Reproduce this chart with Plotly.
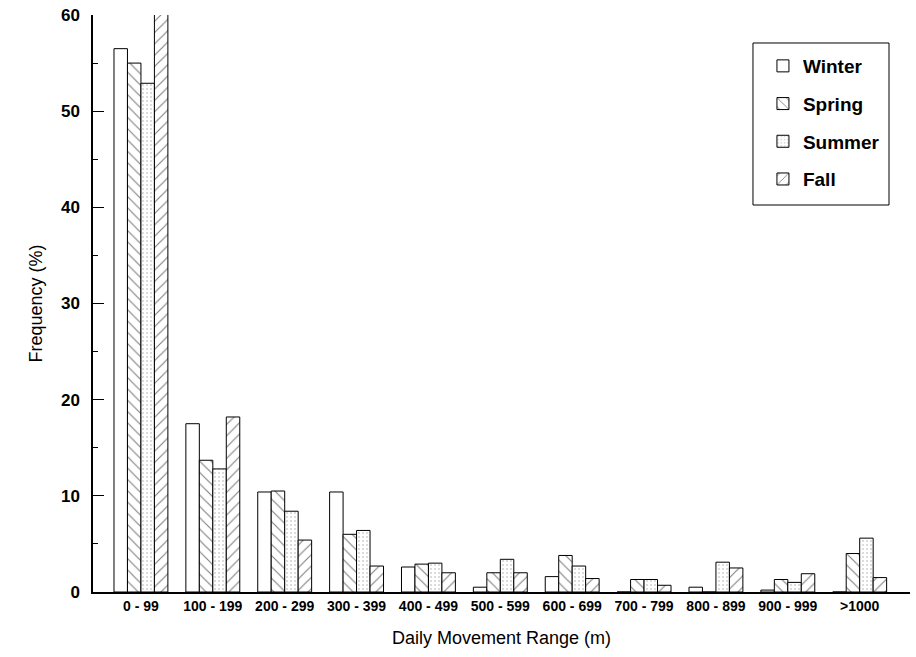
import plotly.graph_objects as go

categories = ["0 - 99", "100 - 199", "200 - 299", "300 - 399", "400 - 499",
              "500 - 599", "600 - 699", "700 - 799", "800 - 899", "900 - 999", ">1000"]
winter = [56.5, 17.5, 10.4, 10.4, 2.6, 0.5, 1.6, 0.0, 0.5, 0.2, 0.0]
spring = [55.0, 13.7, 10.5, 6.0, 2.9, 2.0, 3.8, 1.3, 0.0, 1.3, 4.0]
summer = [52.9, 12.8, 8.4, 6.4, 3.0, 3.4, 2.7, 1.3, 3.1, 1.0, 5.6]
fall = [60.1, 18.2, 5.4, 2.7, 2.0, 2.0, 1.4, 0.7, 2.5, 1.9, 1.5]
y_ticks = [0, 10, 20, 30, 40, 50, 60]

FONT = "Liberation Sans"

series = [
    ("Winter", winter, dict(shape="", fillmode="replace")),
    ("Spring", spring, dict(shape="\\", size=8, solidity=0.14, fgcolor="black", bgcolor="white")),
    ("Summer", summer, dict(shape=".", size=4, solidity=0.22, fgcolor="#a8a8a8", bgcolor="white")),
    ("Fall", fall, dict(shape="/", size=8, solidity=0.14, fgcolor="black", bgcolor="white")),
]

fig = go.Figure()
for i, (name, vals, pat) in enumerate(series):
    fig.add_trace(go.Bar(
        x=categories, y=vals, name=name, legendgroup=name,
        marker=dict(color="white", line=dict(color="black", width=1), pattern=pat),
    ))

# legend frame
fig.add_shape(type="rect", xref="paper", yref="paper",
              x0=0.8078, x1=0.9743, y0=0.6707, y1=0.9515,
              line=dict(color="black", width=1), fillcolor="rgba(0,0,0,0)", layer="above")

fig.update_layout(
    width=916, height=657,
    margin=dict(l=93, r=6, t=15, b=65, autoexpand=False),
    paper_bgcolor="white", plot_bgcolor="white",
    barmode="group", bargap=0.25, bargroupgap=0,
    font=dict(family=FONT, color="black"),
    showlegend=True,
    legend=dict(
        x=0.82, y=0.9445, xanchor="left", yanchor="top",
        borderwidth=0, bgcolor="rgba(255,255,255,0)",
        font=dict(size=19, family=FONT, color="black", weight="bold"),
        traceorder="grouped", tracegroupgap=10,
    ),
    xaxis=dict(
        type="category", range=[-0.667, 10.7],
        showline=True, linecolor="black", linewidth=1.5,
        ticks="", showgrid=False, zeroline=False, automargin=False,
        tickfont=dict(size=14, family=FONT, color="black", weight="bold"),
        title=dict(text="Daily Movement Range (m)", font=dict(size=18, family=FONT), standoff=19),
    ),
    yaxis=dict(
        range=[0, 60], tickvals=y_ticks, automargin=False,
        showline=True, linecolor="black", linewidth=1.5,
        ticks="inside", ticklen=11, tickcolor="black", tickwidth=1,
        minor=dict(dtick=5, ticks="inside", ticklen=5, tickcolor="black", showgrid=False),
        showgrid=False, zeroline=False,
        tickfont=dict(size=17, family=FONT, color="black", weight="bold"),
        ticklabelstandoff=8, ticklabeloverflow="allow",
        title=dict(text="Frequency (%)", font=dict(size=18, family=FONT), standoff=14),
    ),
)

fig.write_html("out.html", config={"displayModeBar": False},
               post_script="document.body.style.margin='0';")
